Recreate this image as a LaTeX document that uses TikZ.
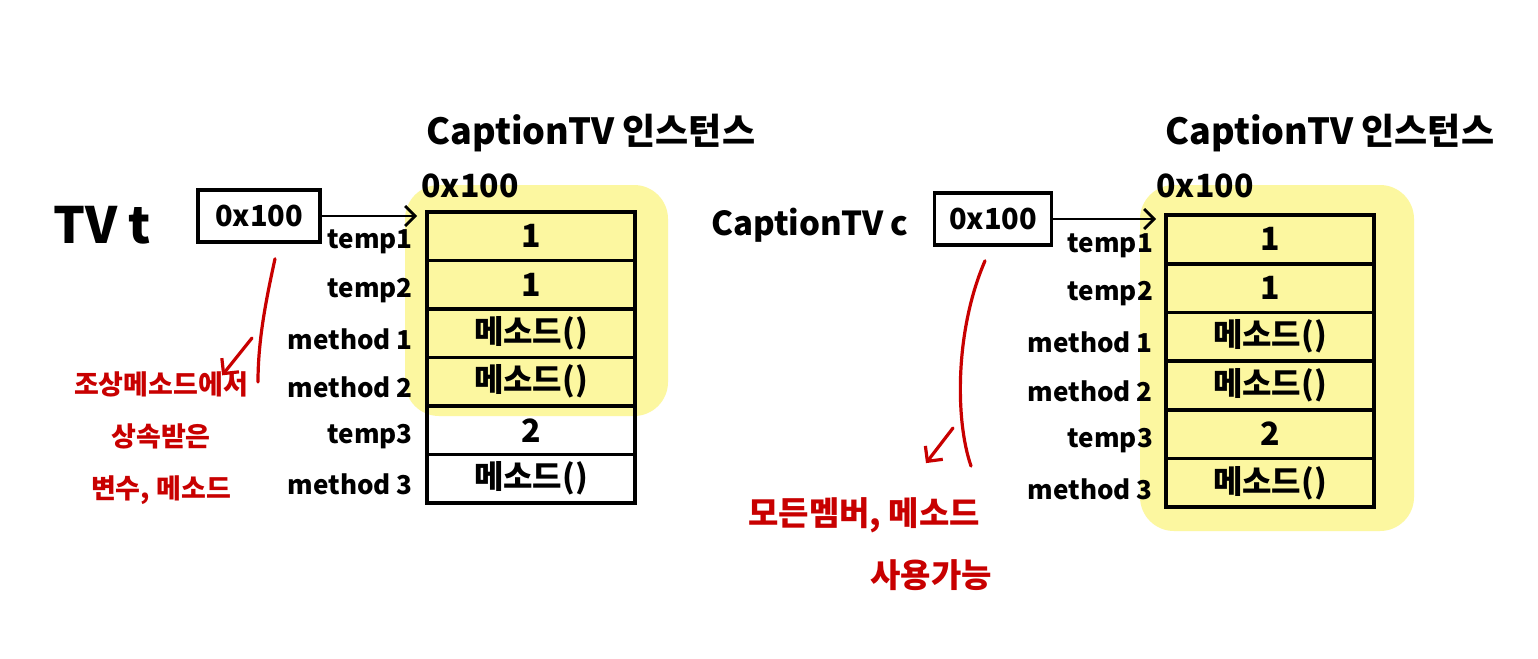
\documentclass[tikz,border=0pt]{standalone}
\usepackage{fontspec}
\setmainfont{Noto Sans CJK KR}
\usepackage{xcolor}
\usepackage{tikz}
\usetikzlibrary{
  arrows.meta,
  positioning
}
\definecolor{MarkYellow}{HTML}{FCF7A0}
\definecolor{NoteRed}{HTML}{C80000}
\tikzset{
  cell/.style={
    draw,
    line width=3.4pt,
    minimum width=208pt,
    minimum height=48.5pt,
    inner sep=0pt,
    outer sep=0pt,
    font=\fontsize{32}{34}\selectfont\bfseries
  },
  field/.style={
    inner sep=0pt,
    font=\fontsize{26}{28}\selectfont\bfseries
  },
  pointerbox/.style={
    draw,
    line width=3.6pt,
    minimum height=52pt,
    inner sep=0pt,
    font=\fontsize{29}{31}\selectfont\bfseries
  },
  varname/.style={
    inner sep=0pt,
    font=\fontsize{50}{52}\selectfont\bfseries
  },
  title/.style={
    inner sep=0pt,
    font=\fontsize{36}{38}\selectfont\bfseries
  },
  addr/.style={
    inner sep=0pt,
    font=\fontsize{32}{34}\selectfont\bfseries
  },
  note/.style={
    inner sep=0pt,
    text=NoteRed,
    align=center,
    font=\fontsize{27}{52}\selectfont\bfseries
  },
  pointer/.style={
    -{Straight Barb[length=10pt,width=20pt,line width=2.8pt]},
    line width=2.8pt,
    shorten >=10pt
  },
  redline/.style={
    NoteRed,
    line width=3.2pt,
    line cap=round
  },
  redarrow/.style={
    redline,
    -{Straight Barb[length=11pt,width=22pt,line width=3.2pt]}
  }
}

\begin{document}
\begin{tikzpicture}[x=1pt,y=-1pt]

  \useasboundingbox (0,0) rectangle (1538,658);
  \fill[white] (0,0) rectangle (1538,658);

  \fill[MarkYellow, rounded corners=34pt]
  (405,185) rectangle (668,416);
  \fill[MarkYellow, rounded corners=34pt]
  (1140,185) rectangle (1414,531);

  \node[varname] at (102,225) (varA) {TV t};
  \node[pointerbox, minimum width=122pt] at (259,216) (ptrA) {0x100};
  \node[title] at (591,133) (titleA) {CaptionTV 인스턴스};
  \node[addr] at (470,186) (addrA) {0x100};

  \foreach \val/\lbl [count=\i] in {
    1/temp1,
    1/temp2,
    메소드()/method 1,
    메소드()/method 2,
    2/temp3,
    메소드()/method 3
  } {
    \node[cell] at (531,{212+48.5*\i-24.25}) (cellA\i) {\val};
    \node[field, left=14pt of cellA\i, yshift=-6pt] (fieldA\i) {\lbl};
  }

  \draw[pointer]
  (ptrA.east) --
  (ptrA.east -| cellA1.west);

  \node[note] at (161,438) (noteA) {
    조상메소드에서\\상속받은\\변수, 메소드
  };

  \coordinate (bendA) at (258,382);
  \coordinate (forkA) at (252,338);
  \draw[redline]
  ([xshift=16pt,yshift=-15pt]ptrA.south) ..
  controls (266,300) and (258,340) ..
  (bendA);
  \draw[redarrow]
  (forkA) --
  ([xshift=-26pt,yshift=-4pt]noteA.north east);

  \node[varname, font=\fontsize{33}{35}\selectfont\bfseries] at (810,225) (varB) {CaptionTV c};
  \node[pointerbox, minimum width=117pt] at (993,219) (ptrB) {0x100};
  \node[title] at (1330,133) (titleB) {CaptionTV 인스턴스};
  \node[addr] at (1205,186) (addrB) {0x100};

  \foreach \val/\lbl [count=\i] in {
    1/temp1,
    1/temp2,
    메소드()/method 1,
    메소드()/method 2,
    2/temp3,
    메소드()/method 3
  } {
    \node[cell] at (1270,{215+48.7*\i-24.35}) (cellB\i) {\val};
    \node[field, left=13pt of cellB\i, yshift=-6pt] (fieldB\i) {\lbl};
  }

  \draw[pointer]
  (ptrB.east) --
  (ptrB.east -| cellB1.west);

  \node[note, font=\fontsize{33}{35}\selectfont\bfseries] at (868,515) (noteB) {
    모든멤버, 메소드
  };
  \node[note, font=\fontsize{33}{35}\selectfont\bfseries] at (935,575) (noteBB) {
    사용가능
  };

  \coordinate (bendB) at (971,466);
  \coordinate (forkB) at (953,428);
  \draw[redline]
  ([xshift=-8pt,yshift=-14pt]ptrB.south) ..
  controls (955,330) and (955,420) ..
  (bendB);
  \draw[redarrow]
  (forkB) --
  ([xshift=58pt,yshift=34pt]noteB.north);

\end{tikzpicture}
\end{document}
